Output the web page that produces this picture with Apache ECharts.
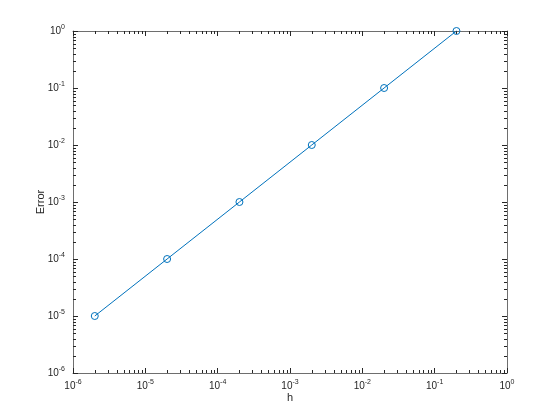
<!DOCTYPE html>
<html>
<head>
<meta charset="utf-8">
<script src="https://cdn.jsdelivr.net/npm/echarts@6/dist/echarts.min.js"></script>
<style>html,body{margin:0;padding:0;background:#fff}#c{width:560px;height:420px}</style>
</head>
<body>
<div id="c"></div>
<script>
var hValues = [2e-6, 2e-5, 2e-4, 2e-3, 2e-2, 2e-1];
var errorValues = [1e-5, 1e-4, 1e-3, 1e-2, 1e-1, 1e0];
var xRange = [1e-6, 1e0];
var yRange = [1e-6, 1e0];
var xName = 'h';
var yName = 'Error';

var FONT = '"Liberation Sans", Arial, Helvetica, sans-serif';
var AXIS_COLOR = '#6e6e6e';
var TEXT_COLOR = '#262626';

function logLabel(v) {
  var e = Math.round(Math.log10(v));
  return '10{s|' + e + '}';
}
var rich = { s: { fontSize: 7, fontFamily: FONT, color: TEXT_COLOR, padding: [0, 0, 7, 0] } };

// minor tick positions (2..9 x 10^d) for decoration
function minorTicks(range) {
  var out = [];
  var lo = Math.round(Math.log10(range[0])), hi = Math.round(Math.log10(range[1]));
  for (var d = lo; d < hi; d++) for (var k = 2; k <= 9; k++) out.push(k * Math.pow(10, d));
  return out;
}
var xMinor = minorTicks(xRange), yMinor = minorTicks(yRange);
var minorData = [];
xMinor.forEach(function (v) { minorData.push([v, yRange[0], 0]); });
yMinor.forEach(function (v) { minorData.push([xRange[0], v, 1]); });

var chart = echarts.init(document.getElementById('c'), null, { renderer: 'canvas' });

function baseAxis(range, extra) {
  var a = {
    type: 'log', logBase: 10, min: range[0], max: range[1],
    axisLine: { show: true, lineStyle: { color: AXIS_COLOR, width: 1 } },
    axisTick: { show: true, inside: true, length: 5, lineStyle: { color: '#262626', width: 1 } },
    splitLine: { show: false },
    axisLabel: { show: false }
  };
  for (var k in extra) a[k] = extra[k];
  return a;
}

var option = {
  animation: false,
  backgroundColor: '#fff',
  grid: { left: 73, right: 53, top: 31, bottom: 47, containLabel: false },
  xAxis: [
    baseAxis(xRange, {
      position: 'bottom',
      name: xName, nameLocation: 'middle', nameGap: 19, nameMoveOverlap: false,
      nameTextStyle: { fontFamily: FONT, fontSize: 11, color: TEXT_COLOR },
      axisLabel: { show: true, formatter: logLabel, rich: rich, fontFamily: FONT, fontSize: 10, color: TEXT_COLOR, margin: 6 }
    }),
    baseAxis(xRange, { position: 'top' })
  ],
  yAxis: [
    baseAxis(yRange, {
      position: 'left',
      name: yName, nameLocation: 'middle', nameGap: 27, nameRotate: 90, nameMoveOverlap: false,
      nameTextStyle: { fontFamily: FONT, fontSize: 11, color: TEXT_COLOR },
      axisLabel: { show: true, formatter: logLabel, rich: rich, fontFamily: FONT, fontSize: 10, color: TEXT_COLOR, margin: 8 }
    }),
    baseAxis(yRange, { position: 'right' })
  ],
  series: [
    {
      type: 'custom',
      xAxisIndex: 0, yAxisIndex: 0,
      silent: true, clip: false, z: 1,
      data: minorData,
      renderItem: function (params, api) {
        var cs = params.coordSys;
        var L = 3;
        var style = { stroke: '#262626', lineWidth: 1 };
        if (api.value(2) === 0) {
          var x = Math.round(api.coord([api.value(0), yRange[0]])[0]) + 0.5;
          return { type: 'group', children: [
            { type: 'line', shape: { x1: x, y1: cs.y + cs.height, x2: x, y2: cs.y + cs.height - L }, style: style },
            { type: 'line', shape: { x1: x, y1: cs.y, x2: x, y2: cs.y + L }, style: style }
          ]};
        } else {
          var y = Math.round(api.coord([xRange[0], api.value(1)])[1]) + 0.5;
          return { type: 'group', children: [
            { type: 'line', shape: { x1: cs.x, y1: y, x2: cs.x + L, y2: y }, style: style },
            { type: 'line', shape: { x1: cs.x + cs.width, y1: y, x2: cs.x + cs.width - L, y2: y }, style: style }
          ]};
        }
      }
    },
    {
      type: 'line',
      xAxisIndex: 0, yAxisIndex: 0,
      data: hValues.map(function (h, i) { return [h, errorValues[i]]; }),
      symbol: 'circle', symbolSize: 7,
      lineStyle: { color: '#0072BD', width: 1 },
      itemStyle: { color: 'rgba(0,0,0,0)', borderColor: '#0072BD', borderWidth: 1 },
      clip: false, z: 3
    }
  ]
};
chart.setOption(option);
</script>
</body>
</html>
